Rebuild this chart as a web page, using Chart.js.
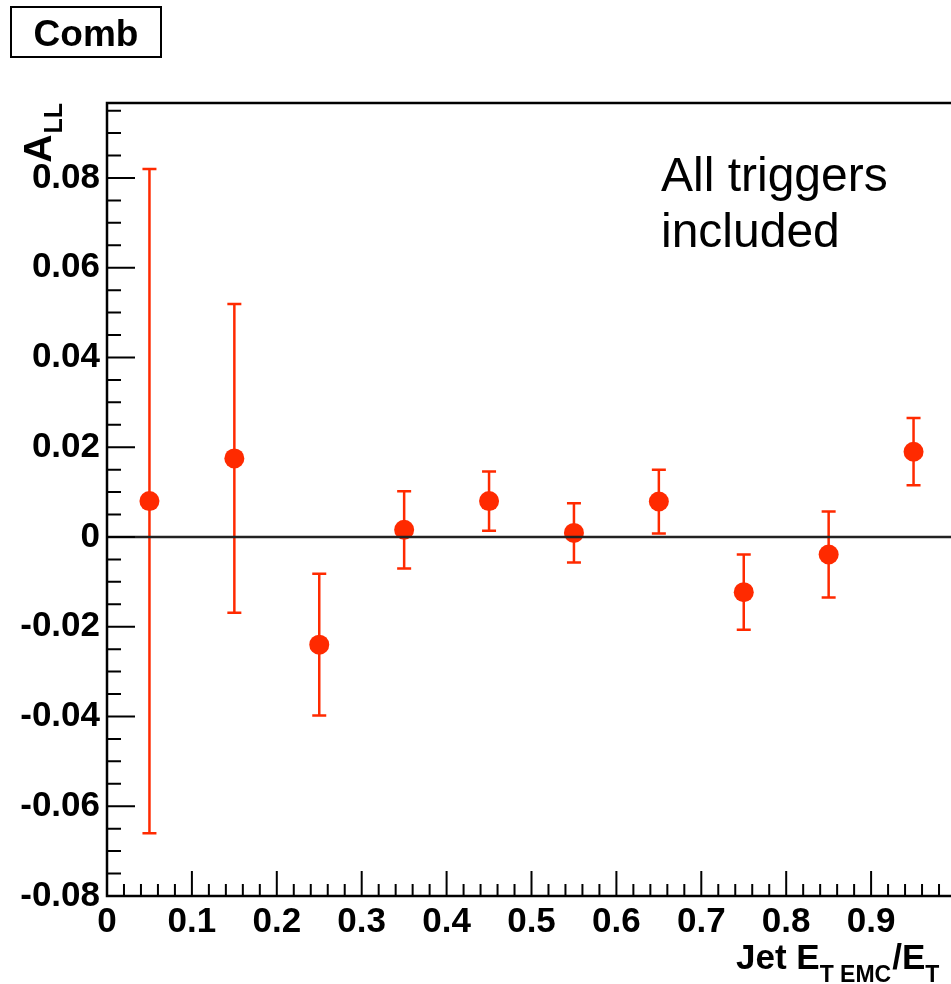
<!DOCTYPE html>
<html>
<head>
<meta charset="utf-8">
<script src="https://cdn.jsdelivr.net/npm/chart.js@4"></script>
<style>
  html, body { margin: 0; padding: 0; background: #fff; overflow: hidden; }
  #wrap { width: 951px; height: 984px; overflow: hidden; }
</style>
</head>
<body>
<div id="wrap"><canvas id="allChart" width="970" height="984"></canvas></div>
<script>
// A_LL vs jet E_T(EMC)/E_T, all triggers combined
const binCenters = [0.05, 0.15, 0.25, 0.35, 0.45, 0.55, 0.65, 0.75, 0.85, 0.95];
const allValues  = [0.008, 0.0175, -0.024, 0.0016, 0.008, 0.0009, 0.0079, -0.0123, -0.0039, 0.019];
const allErrors  = [0.074, 0.0344, 0.0158, 0.0086, 0.0066, 0.0066, 0.0071, 0.0084, 0.0096, 0.0075];

const xTickValues = [0, 0.1, 0.2, 0.3, 0.4, 0.5, 0.6, 0.7, 0.8, 0.9];
const xTickLabels = ['0', '0.1', '0.2', '0.3', '0.4', '0.5', '0.6', '0.7', '0.8', '0.9'];
const yTickValues = [-0.08, -0.06, -0.04, -0.02, 0, 0.02, 0.04, 0.06, 0.08];
const yTickLabels = ['-0.08', '-0.06', '-0.04', '-0.02', '0', '0.02', '0.04', '0.06', '0.08'];

const RED = '#ff2a00';
const FONT = '"Liberation Sans", Arial, Helvetica, sans-serif';

// vertical error bars with small caps
const errorBars = {
  id: 'errorBars',
  beforeDatasetsDraw(chart) {
    const ctx = chart.ctx, x = chart.scales.x, y = chart.scales.y;
    ctx.save();
    ctx.strokeStyle = RED;
    ctx.lineWidth = 2.5;
    binCenters.forEach((c, i) => {
      const px = x.getPixelForValue(c);
      const top = y.getPixelForValue(allValues[i] + allErrors[i]);
      const bot = y.getPixelForValue(allValues[i] - allErrors[i]);
      ctx.beginPath();
      ctx.moveTo(px, top); ctx.lineTo(px, bot);
      ctx.moveTo(px - 7, top); ctx.lineTo(px + 7, top);
      ctx.moveTo(px - 7, bot); ctx.lineTo(px + 7, bot);
      ctx.stroke();
    });
    ctx.restore();
  }
};

// frame, inward ticks, zero line and the text boxes
const rootStyle = {
  id: 'rootStyle',
  afterDatasetsDraw(chart) {
    const ctx = chart.ctx, a = chart.chartArea, y = chart.scales.y;
    const y0 = y.getPixelForValue(0);
    ctx.save();
    ctx.strokeStyle = '#222';
    ctx.lineWidth = 2.5;
    ctx.beginPath();
    ctx.moveTo(a.left, y0); ctx.lineTo(a.right, y0);
    ctx.stroke();
    ctx.restore();
  },
  afterDraw(chart) {
    const ctx = chart.ctx, a = chart.chartArea;
    const x = chart.scales.x, y = chart.scales.y;
    ctx.save();
    ctx.strokeStyle = '#000';
    ctx.lineWidth = 2.5;
    ctx.strokeRect(a.left, a.top, a.right - a.left, a.bottom - a.top);

    ctx.lineWidth = 2;
    ctx.beginPath();
    for (let i = 0; i <= 50; i++) {
      const px = x.getPixelForValue(i * 0.02);
      const len = i % 5 === 0 ? 25 : 12;
      ctx.moveTo(px, a.bottom); ctx.lineTo(px, a.bottom - len);
    }
    for (let i = 0; i * 0.005 - 0.08 <= y.max; i++) {
      const py = y.getPixelForValue(i * 0.005 - 0.08);
      const len = i % 4 === 0 ? 28 : 14;
      ctx.moveTo(a.left, py); ctx.lineTo(a.left + len, py);
    }
    ctx.stroke();

    // "Comb" label box
    ctx.lineWidth = 2;
    ctx.strokeRect(11, 7, 150, 50);
    ctx.fillStyle = '#000';
    ctx.font = 'bold 37px ' + FONT;
    ctx.textAlign = 'center';
    ctx.textBaseline = 'alphabetic';
    ctx.fillText('Comb', 86, 46);

    // annotation
    ctx.textAlign = 'left';
    ctx.font = '48px ' + FONT;
    ctx.fillText('All triggers', 661, 191);
    ctx.fillText('included', 661, 247);

    // x title: Jet E_T EMC / E_T
    let tx = 736;
    const big = 'bold 35px ' + FONT, small = 'bold 23px ' + FONT;
    const parts = [['Jet E', big, 969], ['T EMC', small, 982], ['/E', big, 969], ['T', small, 982]];
    parts.forEach(([s, f, b]) => {
      ctx.font = f;
      ctx.fillText(s, tx, b);
      tx += ctx.measureText(s).width + (f === small ? 1 : 0);
    });

    // y title: A_LL, rotated
    ctx.translate(51, 103);
    ctx.rotate(-Math.PI / 2);
    ctx.textAlign = 'right';
    ctx.font = 'bold 25px ' + FONT;
    ctx.fillText('LL', 0, 11);
    const wLL = ctx.measureText('LL').width;
    ctx.font = 'bold 39px ' + FONT;
    ctx.fillText('A', -wLL - 1, 0);
    ctx.restore();
  }
};

new Chart(document.getElementById('allChart'), {
  type: 'scatter',
  data: {
    datasets: [{
      label: 'Comb',
      data: binCenters.map((c, i) => ({ x: c, y: allValues[i] })),
      backgroundColor: RED,
      borderColor: RED,
      pointRadius: 10,
      pointBorderWidth: 0
    }]
  },
  options: {
    responsive: false,
    animation: false,
    devicePixelRatio: 1,
    layout: { padding: { top: 103, right: 14, left: 0, bottom: 0 } },
    plugins: { legend: { display: false }, tooltip: { enabled: false } },
    scales: {
      x: {
        type: 'linear',
        min: 0,
        max: 1,
        afterBuildTicks: s => { s.ticks = xTickValues.map(v => ({ value: v })); },
        afterFit: s => { s.height = 88; },
        grid: { display: false, drawTicks: false },
        border: { display: false },
        ticks: {
          padding: 5,
          color: '#000',
          font: { family: FONT, size: 35, weight: 'bold' },
          callback: (v, i) => xTickLabels[i]
        }
      },
      y: {
        type: 'linear',
        min: -0.08,
        max: 0.0967,
        afterBuildTicks: s => { s.ticks = yTickValues.map(v => ({ value: v })); },
        afterFit: s => { s.width = 107; },
        grid: { display: false, drawTicks: false },
        border: { display: false },
        ticks: {
          padding: 7,
          color: '#000',
          font: { family: FONT, size: 35, weight: 'bold' },
          callback: (v, i) => yTickLabels[i]
        }
      }
    }
  },
  plugins: [errorBars, rootStyle]
});
</script>
</body>
</html>
